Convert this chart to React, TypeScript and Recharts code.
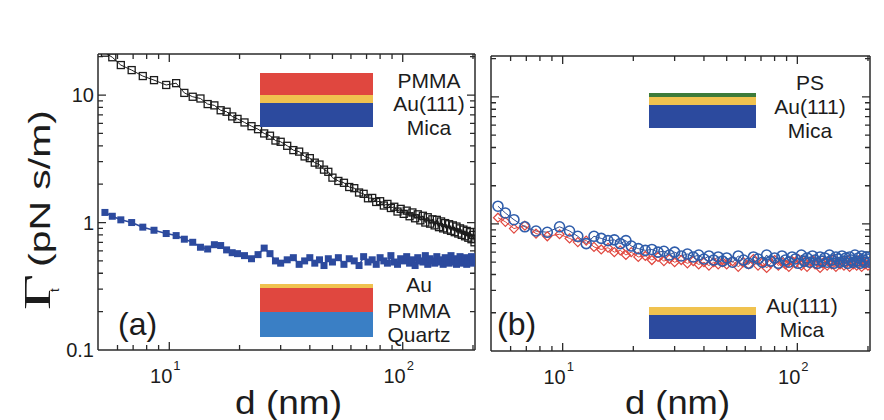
import { LineChart, Line, XAxis, YAxis, ReferenceLine } from 'recharts';

// tip-sample separation d (nm), shared by all four curves
const dNm = [
  5.3, 5.7, 6.2, 6.9, 7.7, 8.6, 9.7, 10.7, 11.6, 12.6,
  13.6, 14.6, 15.6, 16.6, 17.6, 18.6, 19.6, 21, 22.5, 24,
  25.5, 27, 28.5, 30, 32, 34, 36, 38, 40, 42,
  44, 46, 48, 50, 53, 56, 59, 62, 65, 68,
  71, 74, 77, 80, 83, 86, 89, 92, 95, 98,
  101, 104, 107, 110, 113, 116, 119, 122, 125, 128,
  131, 134, 137, 140, 143, 146, 149, 152, 155, 158,
  161, 164, 167, 170, 173, 176, 179, 182, 185, 188,
  191, 194, 197, 200, 203,
];

// (a) open squares: PMMA / Au(111) / Mica
const pmmaOnGold = [
  21.5, 19.8, 17.2, 15.7, 14.1, 13.1, 12.0, 12.4, 10.4, 9.7,
  9.4, 8.5, 8.3, 7.6, 7.4, 6.8, 6.5, 6.1, 5.7, 5.4,
  5.0, 4.8, 4.4, 4.3, 4.0, 3.7, 3.6, 3.3, 3.2, 2.95,
  2.85, 2.6, 2.5, 2.25, 2.12, 2.05, 1.9, 1.86, 1.72, 1.68,
  1.55, 1.56, 1.45, 1.47, 1.36, 1.4, 1.3, 1.33, 1.22, 1.28,
  1.17, 1.24, 1.12, 1.2, 1.08, 1.16, 1.04, 1.13, 1.0, 1.1,
  0.98, 1.06, 0.95, 1.05, 0.92, 1.02, 0.9, 0.99, 0.88, 0.97,
  0.86, 0.95, 0.84, 0.93, 0.82, 0.9, 0.8, 0.88, 0.78, 0.86,
  0.76, 0.84, 0.74, 0.8, 0.7,
];

// (a) filled squares: Au / PMMA / Quartz
const goldOnPmma = [
  1.2, 1.12, 1.05, 1.0, 0.92, 0.87, 0.82, 0.79, 0.74, 0.7,
  0.64, 0.62, 0.67, 0.66, 0.61, 0.58, 0.57, 0.55, 0.52, 0.56,
  0.63, 0.57, 0.5, 0.48, 0.51, 0.53, 0.47, 0.5, 0.53, 0.48,
  0.51, 0.46, 0.52, 0.49, 0.53, 0.47, 0.52, 0.5, 0.46, 0.54,
  0.49, 0.51, 0.47, 0.53, 0.5, 0.48, 0.55, 0.49, 0.47, 0.52,
  0.5, 0.54, 0.48, 0.51, 0.46, 0.53, 0.5, 0.49, 0.55, 0.47,
  0.52, 0.5, 0.48, 0.54, 0.49, 0.51, 0.47, 0.53, 0.5, 0.48,
  0.55, 0.49, 0.52, 0.47, 0.51, 0.54, 0.48, 0.5, 0.53, 0.47,
  0.51, 0.49, 0.54, 0.48, 0.5,
];

// (b) open circles: PS / Au(111) / Mica
const psOnGold = [
  1.38, 1.22, 1.08, 0.95, 0.88, 0.86, 0.95, 0.88, 0.8, 0.7,
  0.8, 0.77, 0.74, 0.75, 0.7, 0.74, 0.67, 0.64, 0.62, 0.63,
  0.6, 0.61, 0.57, 0.6, 0.56, 0.58, 0.55, 0.57, 0.53, 0.56,
  0.52, 0.55, 0.51, 0.54, 0.5, 0.56, 0.52, 0.49, 0.55, 0.53,
  0.5, 0.57, 0.51, 0.54, 0.49, 0.56, 0.52, 0.5, 0.55, 0.53,
  0.49, 0.57, 0.51, 0.54, 0.5, 0.56, 0.52, 0.49, 0.55, 0.51,
  0.54, 0.5, 0.57, 0.52, 0.49, 0.55, 0.53, 0.5, 0.56, 0.51,
  0.54, 0.49, 0.55, 0.52, 0.5, 0.57, 0.51, 0.54, 0.49, 0.56,
  0.52, 0.5, 0.55, 0.53, 0.5,
];

// (b) open diamonds: Au(111) / Mica
const bareGold = [
  1.12, 1.04, 0.92, 0.97, 0.84, 0.8, 0.83, 0.77, 0.72, 0.74,
  0.66, 0.63, 0.65, 0.6, 0.62, 0.57, 0.6, 0.55, 0.56, 0.52,
  0.55, 0.51, 0.53, 0.5, 0.52, 0.49, 0.51, 0.48, 0.5, 0.47,
  0.5, 0.48, 0.5, 0.48, 0.51, 0.46, 0.5, 0.48, 0.53, 0.47,
  0.5, 0.45, 0.49, 0.52, 0.47, 0.5, 0.48, 0.46, 0.51, 0.49,
  0.53, 0.47, 0.5, 0.46, 0.49, 0.52, 0.48, 0.5, 0.45, 0.49,
  0.51, 0.47, 0.5, 0.48, 0.53, 0.46, 0.5, 0.48, 0.51, 0.47,
  0.49, 0.52, 0.46, 0.5, 0.48, 0.51, 0.47, 0.49, 0.53, 0.46,
  0.5, 0.48, 0.51, 0.47, 0.49,
];

const xTicks = [6, 7, 8, 9, 10, 20, 30, 40, 50, 60, 70, 80, 90, 100, 200];
const xMajor = [10, 100];
const xMajorExp = ['1', '2'];
const yTicks = [0.2, 0.3, 0.4, 0.5, 0.6, 0.7, 0.8, 0.9, 1, 2, 3, 4, 5, 6, 7, 8, 9, 10, 20];
const yMajor = [0.1, 1, 10];
const yMajorLabels = ['0.1', '1', '10'];

const rowsA = dNm.map((d, i) => ({ d, pmmaOnGold: pmmaOnGold[i], goldOnPmma: goldOnPmma[i] }));
const rowsB = dNm.map((d, i) => ({ d, psOnGold: psOnGold[i], bareGold: bareGold[i] }));

const INK = '#1c1c1c';
const FRAME = '#2a2a2a';
const FONT = '"Liberation Sans", Arial, Helvetica, sans-serif';
const RED = '#e0473f';
const GOLD = '#f0c24f';
const NAVY = '#2c4a9e';
const SKY = '#3a7fc5';
const GREEN = '#3d7b3a';
const MAJOR_LEN = 8;
const MINOR_LEN = 5;

type TickProps = { x: number; y: number; payload: { value: number } };

// axis labels only; the inward tick marks are drawn with reference lines
function bottomLabel(props: TickProps) {
  const { x, y, payload } = props;
  const k = xMajor.indexOf(payload.value);
  if (k < 0) return <g />;
  return (
    <g fill={INK} fontFamily={FONT}>
      <text x={x + 3} y={y + 33} textAnchor="end" fontSize={20}>10</text>
      <text x={x + 4} y={y + 20} fontSize={13}>{xMajorExp[k]}</text>
    </g>
  );
}

function leftLabel(props: TickProps) {
  const { x, y, payload } = props;
  const k = yMajor.indexOf(payload.value);
  if (k < 0) return <g />;
  return (
    <text x={x - 4} y={y} dy="0.36em" textAnchor="end" fontSize={20} fontFamily={FONT} fill={INK}>
      {yMajorLabels[k]}
    </text>
  );
}

// short marks at both ends of a full-height / full-width reference line
const xMark = (len: number) => (p: any) => {
  const lo = Math.max(p.y1, p.y2);
  const hi = Math.min(p.y1, p.y2);
  return <path d={`M${p.x1},${lo}V${lo - len}M${p.x1},${hi}V${hi + len}`} stroke={FRAME} strokeWidth={1.3} fill="none" />;
};
const yMark = (len: number) => (p: any) => {
  const l = Math.min(p.x1, p.x2);
  const r = Math.max(p.x1, p.x2);
  return <path d={`M${l},${p.y1}H${l + len}M${r},${p.y1}H${r - len}`} stroke={FRAME} strokeWidth={1.3} fill="none" />;
};

const openSquare = (p: any) =>
  p.cy == null ? <g key={p.index} /> : (
    <rect key={p.index} x={p.cx - 3.5} y={p.cy - 3.5} width={7} height={7} fill="none" stroke={INK} strokeWidth={1.3} />
  );
const filledSquare = (p: any) =>
  p.cy == null ? <g key={p.index} /> : (
    <rect key={p.index} x={p.cx - 3.5} y={p.cy - 3.5} width={7} height={7} fill={NAVY} />
  );
const openCircle = (p: any) =>
  p.cy == null ? <g key={p.index} /> : (
    <circle key={p.index} cx={p.cx} cy={p.cy} r={5} fill="none" stroke="#2f5dab" strokeWidth={1.6} />
  );
const openDiamond = (p: any) =>
  p.cy == null ? <g key={p.index} /> : (
    <path key={p.index} d={`M${p.cx},${p.cy - 4.5}L${p.cx + 4.5},${p.cy}L${p.cx},${p.cy + 4.5}L${p.cx - 4.5},${p.cy}Z`} fill="none" stroke={RED} strokeWidth={1.2} />
  );

// plot box given as outer bounds; axes take 1px each, so margins are 1px smaller
function Panel({ data, box, children, labels }: any) {
  const margin = { left: box.left - 1, top: box.top - 1, right: 884 - box.right - 1, bottom: 420 - box.bottom - 1 };
  const frame = { stroke: FRAME, strokeWidth: 1.5 };
  return (
    <div style={{ position: 'absolute', left: 0, top: 0 }}>
      <LineChart width={884} height={420} data={data} margin={margin}>
        <XAxis xAxisId="b" dataKey="d" type="number" scale="log" domain={[4.95, 204]} allowDataOverflow
          ticks={xTicks} interval={0} height={1} tickSize={0} tickMargin={0} tickLine={false}
          axisLine={frame} tick={bottomLabel} />
        <XAxis xAxisId="t" orientation="top" dataKey="d" type="number" scale="log" domain={[4.95, 204]} allowDataOverflow
          ticks={xTicks} height={1} tickLine={false} axisLine={frame} tick={false} />
        <YAxis yAxisId="l" type="number" scale="log" domain={[0.1, 21]} allowDataOverflow
          ticks={[0.1, ...yTicks]} interval={0} width={1} tickSize={0} tickMargin={0} tickLine={false}
          axisLine={frame} tick={labels ? leftLabel : false} />
        <YAxis yAxisId="r" orientation="right" type="number" scale="log" domain={[0.1, 21]} allowDataOverflow
          ticks={yTicks} width={1} tickLine={false} axisLine={frame} tick={false} />
        {xTicks.map((v) => (
          <ReferenceLine key={`x${v}`} xAxisId="b" yAxisId="l" x={v}
            shape={xMark(xMajor.includes(v) ? MAJOR_LEN : MINOR_LEN)} />
        ))}
        {yTicks.map((v) => (
          <ReferenceLine key={`y${v}`} xAxisId="b" yAxisId="l" y={v}
            shape={yMark(yMajor.includes(v) ? MAJOR_LEN : MINOR_LEN)} />
        ))}
        {children}
      </LineChart>
    </div>
  );
}

export default function App() {
  return (
    <div style={{ position: 'absolute', left: 0, top: 0, width: 884, height: 420, background: '#fff', overflow: 'hidden' }}>
      <Panel data={rowsA} labels box={{ left: 98, top: 54, right: 475, bottom: 350 }}>
        <Line xAxisId="b" yAxisId="l" dataKey="goldOnPmma" stroke={NAVY} strokeWidth={1.6}
          dot={filledSquare} activeDot={false} isAnimationActive={false} />
        <Line xAxisId="b" yAxisId="l" dataKey="pmmaOnGold" stroke={INK} strokeWidth={1}
          dot={openSquare} activeDot={false} isAnimationActive={false} />
      </Panel>
      <Panel data={rowsB} labels={false} box={{ left: 491, top: 56, right: 870, bottom: 351 }}>
        <Line xAxisId="b" yAxisId="l" dataKey="bareGold" stroke={RED} strokeWidth={1}
          dot={openDiamond} activeDot={false} isAnimationActive={false} />
        <Line xAxisId="b" yAxisId="l" dataKey="psOnGold" stroke="#2d4b8f" strokeWidth={1}
          dot={openCircle} activeDot={false} isAnimationActive={false} />
      </Panel>
      <svg width={884} height={420} style={{ position: 'absolute', left: 0, top: 0, pointerEvents: 'none' }}>
        <g fontFamily={FONT} fill={INK}>
          {/* layer stack insets, panel (a) */}
          <rect x={260} y={73} width={113} height={22} fill={RED} />
          <rect x={260} y={95} width={113} height={8} fill={GOLD} />
          <rect x={260} y={103} width={113} height={24} fill={NAVY} />
          <g fontSize={21} textAnchor="middle">
            <text x={429} y={88}>PMMA</text>
            <text x={429} y={111}>Au(111)</text>
            <text x={429} y={135}>Mica</text>
          </g>
          <rect x={260} y={284} width={113} height={4} fill={GOLD} />
          <rect x={260} y={288} width={113} height={24} fill={RED} />
          <rect x={260} y={312} width={113} height={25} fill={SKY} />
          <g fontSize={21} textAnchor="middle">
            <text x={419} y={292}>Au</text>
            <text x={419} y={318}>PMMA</text>
            <text x={419} y={342}>Quartz</text>
          </g>
          <text x={118} y={335} fontSize={32}>(a)</text>

          {/* panel (b) */}
          <rect x={649} y={93} width={107} height={4} fill={GREEN} />
          <rect x={649} y={97} width={107} height={8} fill={GOLD} />
          <rect x={649} y={105} width={107} height={23} fill={NAVY} />
          <g fontSize={21} textAnchor="middle">
            <text x={810} y={90}>PS</text>
            <text x={810} y={114}>Au(111)</text>
            <text x={810} y={138}>Mica</text>
          </g>
          <rect x={649} y={307} width={107} height={8} fill={GOLD} />
          <rect x={649} y={315} width={107} height={24} fill={NAVY} />
          <g fontSize={21} textAnchor="middle">
            <text x={802} y={313}>Au(111)</text>
            <text x={802} y={337}>Mica</text>
          </g>
          <text x={497} y={335} fontSize={32}>(b)</text>

          {/* axis titles */}
          <text x={235} y={414} fontSize={33} textLength={107} lengthAdjust="spacingAndGlyphs">d (nm)</text>
          <text x={625} y={414} fontSize={33} textLength={105} lengthAdjust="spacingAndGlyphs">d (nm)</text>
          <g transform="translate(50,310) rotate(-90)">
            <text x={0} y={0} fontSize={38} fontFamily='"Liberation Serif", "Times New Roman", serif'
              textLength={36} lengthAdjust="spacingAndGlyphs">Γ</text>
            <text x={18} y={9} fontSize={13}>t</text>
            <text x={43} y={0} fontSize={30} textLength={157} lengthAdjust="spacingAndGlyphs">(pN s/m)</text>
          </g>
        </g>
      </svg>
    </div>
  );
}
